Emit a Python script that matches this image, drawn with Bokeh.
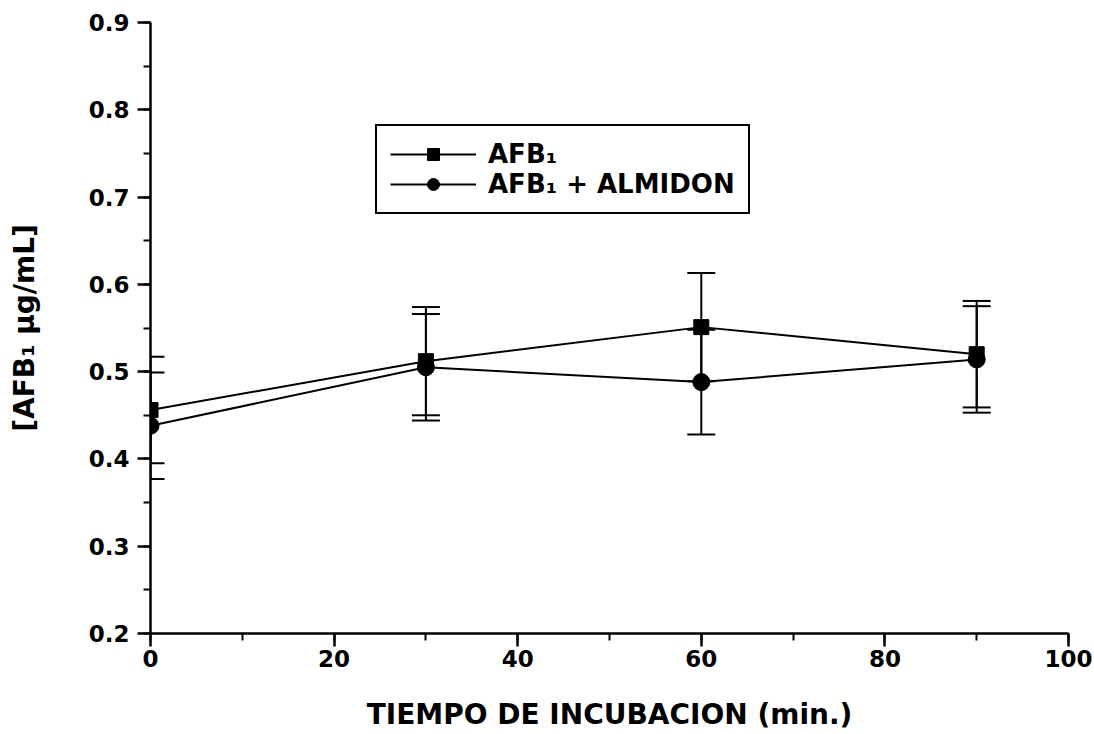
from bokeh.plotting import figure
from bokeh.models import ColumnDataSource, Whisker, TeeHead, Legend, LegendItem, SingleIntervalTicker
from bokeh.embed import file_html
from bokeh.resources import INLINE

# Data
time_min = [0, 30, 60, 90]
afb1 = [0.456, 0.512, 0.551, 0.520]
afb1_err = [0.061, 0.062, 0.062, 0.061]
afb1_alm = [0.438, 0.505, 0.488, 0.514]
afb1_alm_err = [0.061, 0.061, 0.060, 0.061]

label_a = "AFB\u2081"
label_b = "AFB\u2081 + ALMIDON"
x_title = "TIEMPO DE INCUBACION (min.)"
y_title = "[AFB\u2081 \u00b5g/mL]"

FONT = "DejaVu Sans"

src_a = ColumnDataSource(dict(
    x=time_min, y=afb1,
    lo=[v - e for v, e in zip(afb1, afb1_err)],
    hi=[v + e for v, e in zip(afb1, afb1_err)]))
src_b = ColumnDataSource(dict(
    x=time_min, y=afb1_alm,
    lo=[v - e for v, e in zip(afb1_alm, afb1_alm_err)],
    hi=[v + e for v, e in zip(afb1_alm, afb1_alm_err)]))

p = figure(width=1094, height=734, x_range=(0, 100), y_range=(0.2, 0.9),
           output_backend="svg", toolbar_location=None,
           min_border_left=150, min_border_right=26,
           min_border_top=22, min_border_bottom=101)
p.outline_line_color = None
p.xgrid.visible = False
p.ygrid.visible = False
p.background_fill_color = "white"
p.border_fill_color = "white"

# error bars
for src in (src_a, src_b):
    w = Whisker(source=src, base="x", lower="lo", upper="hi",
                line_color="black", line_width=2,
                upper_head=TeeHead(size=28, line_color="black", line_width=2),
                lower_head=TeeHead(size=28, line_color="black", line_width=2))
    p.add_layout(w)

la = p.line("x", "y", source=src_a, line_color="black", line_width=2)
ma = p.scatter("x", "y", source=src_a, marker="square", size=15,
               fill_color="black", line_color="black")
lb = p.line("x", "y", source=src_b, line_color="black", line_width=2)
mb = p.scatter("x", "y", source=src_b, marker="circle", size=17,
               fill_color="black", line_color="black")

legend = Legend(items=[LegendItem(label=label_a, renderers=[la, ma]),
                       LegendItem(label=label_b, renderers=[lb, mb])],
                location=(225, 419))
legend.label_text_font = FONT
legend.label_text_font_style = "bold"
legend.label_text_font_size = "26px"
legend.label_text_color = "black"
legend.glyph_width = 86
legend.glyph_height = 30
legend.label_height = 30
legend.label_standoff = 12
legend.spacing = 0
legend.padding = 13
legend.margin = 0
legend.border_line_color = "black"
legend.border_line_alpha = 1.0
legend.border_line_width = 2
legend.background_fill_color = "white"
legend.background_fill_alpha = 1
p.add_layout(legend)

for ax in (p.xaxis[0], p.yaxis[0]):
    ax.axis_line_width = 2.5
    ax.axis_line_color = "black"
    ax.major_tick_line_width = 2.5
    ax.minor_tick_line_width = 2
    ax.major_tick_line_color = "black"
    ax.minor_tick_line_color = "black"
    ax.major_tick_in = 0
    ax.major_tick_out = 13
    ax.minor_tick_in = 0
    ax.minor_tick_out = 7
    ax.major_label_text_font = FONT
    ax.major_label_text_font_style = "bold"
    ax.major_label_text_font_size = "23px"
    ax.major_label_text_color = "black"
    ax.axis_label_text_font = FONT
    ax.axis_label_text_font_style = "bold"
    ax.axis_label_text_font_size = "28px"
    ax.axis_label_text_color = "black"

p.xaxis[0].ticker = SingleIntervalTicker(interval=20, num_minor_ticks=2)
p.yaxis[0].ticker = SingleIntervalTicker(interval=0.1, num_minor_ticks=2)
p.xaxis[0].axis_label = x_title
p.yaxis[0].axis_label = y_title
p.xaxis[0].major_label_standoff = 3
p.yaxis[0].major_label_standoff = 8
p.xaxis[0].axis_label_standoff = 28
p.yaxis[0].axis_label_standoff = 45

open("out.html", "w").write(file_html(p, INLINE))
